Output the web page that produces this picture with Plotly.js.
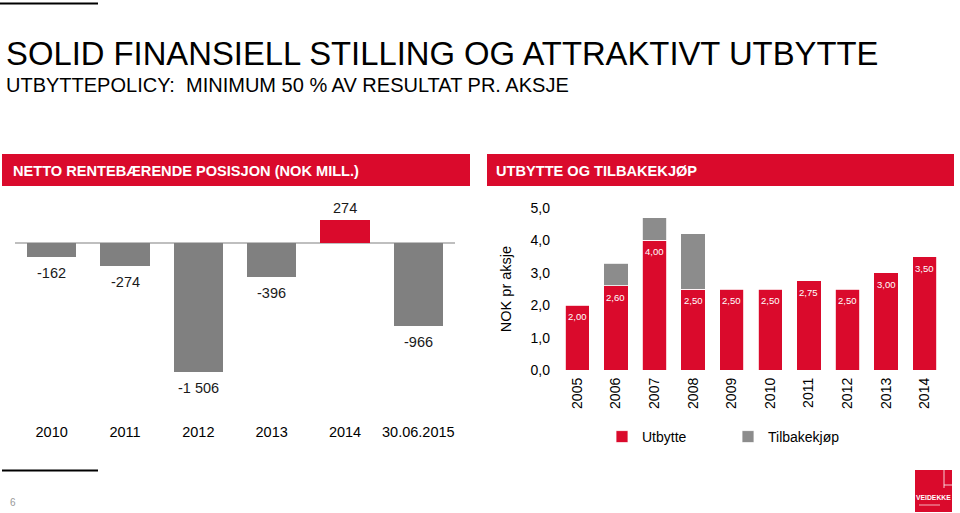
<!DOCTYPE html>
<html><head><meta charset="utf-8">
<script src="https://cdn.plot.ly/plotly-3.0.1.min.js"></script>
<style>html,body{margin:0;padding:0;background:#fff}#chart{width:960px;height:513px}</style>
</head><body><div id="chart"></div>
<script>
// ---- data ----
const netCategories = ['2010', '2011', '2012', '2013', '2014', '30.06.2015'];
const netValues = [-162, -274, -1506, -396, 274, -966];

const divYears = ['2005', '2006', '2007', '2008', '2009', '2010', '2011', '2012', '2013', '2014'];
const dividend = [2.00, 2.60, 4.00, 2.50, 2.50, 2.50, 2.75, 2.50, 3.00, 3.50];
const buyback = [null, 0.70, 0.70, 1.70, null, null, null, null, null, null];

const mainTitle = 'SOLID FINANSIELL STILLING OG ATTRAKTIVT UTBYTTE';
const subTitle = 'UTBYTTEPOLICY:\u00a0\u00a0MINIMUM 50 % AV RESULTAT PR. AKSJE';
const leftHeader = 'NETTO RENTEBÆRENDE POSISJON (NOK MILL.)';
const rightHeader = 'UTBYTTE OG TILBAKEKJØP';

// ---- styles ----
const RED = '#DA0A2C';
const GREY = '#808080';
const GREY2 = '#8C8C8C';
const FONT = 'Liberation Sans, Arial, sans-serif';
const W = 960, H = 513;
const px = x => x / W;
const py = y => 1 - y / H;

function fmtNet(v) {
  const s = Math.abs(v).toString().replace(/\B(?=(\d{3})+(?!\d))/g, ' ');
  return (v < 0 ? '-' : '') + s;
}
const fmtDiv = v => v.toFixed(2).replace('.', ',');

// left chart geometry: zero at y=243, -1506 at y=372
const leftTop = 200, leftBottom = 421, zeroY = 243;
const scale = (372 - zeroY) / 1506;
const leftRange = [-(leftBottom - zeroY) / scale, (zeroY - leftTop) / scale];

const traces = [
  {
    type: 'bar', x: netCategories, y: netValues, xaxis: 'x', yaxis: 'y',
    width: 0.67,
    marker: { color: netValues.map(v => v > 0 ? RED : GREY) },
    textposition: 'none',
    cliponaxis: false, showlegend: false, hoverinfo: 'skip'
  },
  {
    type: 'bar', x: divYears, y: dividend, xaxis: 'x2', yaxis: 'y2', name: 'Utbytte',
    width: 0.63,
    marker: { color: RED, line: { color: '#ffffff', width: 0.8 } },
    textposition: 'none', hoverinfo: 'skip'
  },
  {
    type: 'bar', x: divYears, y: buyback, xaxis: 'x2', yaxis: 'y2', name: 'Tilbakekjøp',
    width: 0.63,
    marker: { color: GREY2, line: { color: '#ffffff', width: 0.8 } },
    textposition: 'none', hoverinfo: 'skip'
  }
];

// value labels (anchored to data coordinates; category index on x)
const netLabels = netCategories.map((c, i) => ({
  xref: 'x', yref: 'y', x: i, y: netValues[i], text: fmtNet(netValues[i]),
  showarrow: false, xanchor: 'center',
  yanchor: netValues[i] < 0 ? 'top' : 'bottom',
  yshift: netValues[i] < 0 ? -6 : 2,
  font: { family: FONT, size: 14.5, color: '#1a1a1a' }
}));
const divLabels = divYears.map((c, i) => ({
  xref: 'x2', yref: 'y2', x: i, y: dividend[i], text: fmtDiv(dividend[i]),
  showarrow: false, xanchor: 'center', yanchor: 'top', yshift: -4,
  font: { family: FONT, size: 9.5, color: '#ffffff' }
}));

const layout = {
  width: W, height: H,
  margin: { l: 0, r: 0, t: 0, b: 0 },
  paper_bgcolor: '#ffffff', plot_bgcolor: 'rgba(0,0,0,0)',
  font: { family: FONT, color: '#000000' },
  separators: ', ',
  barmode: 'stack',
  showlegend: true,
  legend: {
    orientation: 'h', x: px(602), y: py(437), xanchor: 'left', yanchor: 'middle',
    font: { family: FONT, size: 14, color: '#000' },
    entrywidth: 81, entrywidthmode: 'pixels', traceorder: 'normal',
    bgcolor: 'rgba(0,0,0,0)'
  },
  xaxis: {
    domain: [px(15), px(455)], anchor: 'y', type: 'category', range: [-0.5, 5.5],
    showgrid: false, showline: false, zeroline: false, ticks: '',
    tickfont: { family: FONT, size: 14.5, color: '#000' }, fixedrange: true
  },
  yaxis: {
    domain: [py(leftBottom), py(leftTop)], anchor: 'x', range: leftRange,
    showgrid: false, showticklabels: false, ticks: '', showline: false,
    zeroline: true, zerolinecolor: '#BFBFBF', zerolinewidth: 1.5, fixedrange: true
  },
  xaxis2: {
    domain: [px(558), px(944)], anchor: 'y2', type: 'category', range: [-0.5, 9.5],
    showgrid: false, showline: false, zeroline: false, ticks: '', tickangle: -90,
    ticklabelstandoff: 4,
    tickfont: { family: FONT, size: 14, color: '#000' }, fixedrange: true
  },
  yaxis2: {
    domain: [py(370), py(208)], anchor: 'x2', range: [0, 5], dtick: 1, tick0: 0,
    tickformat: '.1f', showgrid: false, zeroline: false, showline: false, ticks: '',
    ticklabelstandoff: 7,
    tickfont: { family: FONT, size: 14, color: '#000' },
    title: { text: 'NOK pr aksje', font: { family: FONT, size: 14.5, color: '#000' }, standoff: 15 },
    fixedrange: true
  },
  shapes: [
    { type: 'line', xref: 'paper', yref: 'paper', x0: 0, x1: px(98), y0: py(3.5), y1: py(3.5), line: { color: '#000', width: 2 } },
    { type: 'line', xref: 'paper', yref: 'paper', x0: px(2), x1: px(98), y0: py(470.5), y1: py(470.5), line: { color: '#000', width: 2 } },
    { type: 'rect', xref: 'paper', yref: 'paper', x0: px(2), x1: px(470), y0: py(186), y1: py(154), fillcolor: RED, line: { width: 0 } },
    { type: 'rect', xref: 'paper', yref: 'paper', x0: px(487), x1: px(954), y0: py(186), y1: py(154), fillcolor: RED, line: { width: 0 } },
    // logo
    { type: 'rect', xref: 'paper', yref: 'paper', x0: px(915), x1: px(952), y0: py(512), y1: py(470), fillcolor: RED, line: { width: 0 } },
    { type: 'line', xref: 'paper', yref: 'paper', x0: px(944), x1: px(944), y0: py(470), y1: py(488), line: { color: '#fff', width: 0.8 } },
    { type: 'line', xref: 'paper', yref: 'paper', x0: px(944), x1: px(952), y0: py(485), y1: py(485), line: { color: '#fff', width: 0.8 } },
    { type: 'line', xref: 'paper', yref: 'paper', x0: px(919), x1: px(940), y0: py(505), y1: py(505), line: { color: '#f4b0bb', width: 1 } }
  ],
  annotations: [
    { text: mainTitle, xref: 'paper', yref: 'paper', x: px(4), y: py(53.5), xanchor: 'left', yanchor: 'middle', showarrow: false,
      font: { family: FONT, size: 32.8, color: '#000' } },
    { text: subTitle, xref: 'paper', yref: 'paper', x: px(4), y: py(85), xanchor: 'left', yanchor: 'middle', showarrow: false,
      font: { family: FONT, size: 20, color: '#000' } },
    { text: '<b>' + leftHeader + '</b>', xref: 'paper', yref: 'paper', x: px(11), y: py(171), xanchor: 'left', yanchor: 'middle', showarrow: false,
      font: { family: FONT, size: 14.6, color: '#fff' } },
    { text: '<b>' + rightHeader + '</b>', xref: 'paper', yref: 'paper', x: px(494), y: py(171), xanchor: 'left', yanchor: 'middle', showarrow: false,
      font: { family: FONT, size: 14.6, color: '#fff' } },
    { text: '6', xref: 'paper', yref: 'paper', x: px(8), y: py(502), xanchor: 'left', yanchor: 'middle', showarrow: false,
      font: { family: FONT, size: 10, color: '#999' } },
    { text: '<b>VEIDEKKE</b>', xref: 'paper', yref: 'paper', x: px(933), y: py(497), xanchor: 'center', yanchor: 'middle', showarrow: false,
      font: { family: FONT, size: 6.8, color: '#fff' } },
    ...netLabels,
    ...divLabels
  ]
};

Plotly.newPlot('chart', traces, layout, { staticPlot: true, displayModeBar: false });
</script>
</body></html>
